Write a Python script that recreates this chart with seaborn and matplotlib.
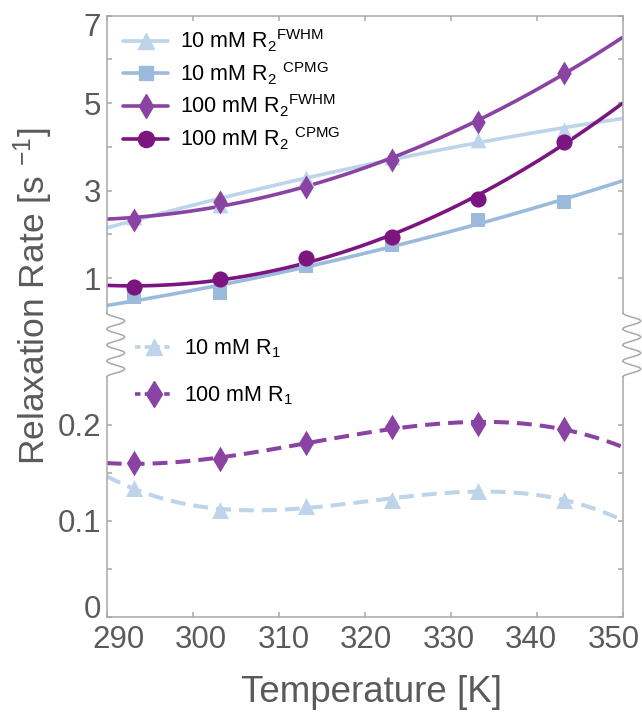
import numpy as np
import matplotlib
matplotlib.use("Agg")
import matplotlib.pyplot as plt
import seaborn as sns
from matplotlib.lines import Line2D
from matplotlib.transforms import ScaledTranslation
from matplotlib import font_manager

# ---------------- data ----------------
temperature = [293.15, 303.15, 313.15, 323.15, 333.15, 343.15]
r2_fwhm_10 = [2.40, 2.67, 3.28, 3.77, 4.16, 4.38]
r2_cpmg_10 = [0.57, 0.66, 1.28, 1.75, 2.32, 2.74]
r2_fwhm_100 = [2.33, 2.74, 3.09, 3.71, 4.57, 5.70]
r2_cpmg_100 = [0.785, 0.97, 1.45, 1.94, 2.80, 4.12]
r1_10 = [0.134, 0.111, 0.116, 0.122, 0.131, 0.122]
r1_100 = [0.160, 0.165, 0.181, 0.198, 0.201, 0.196]

top_yticks = [1, 3, 5, 7]
top_yminor = [2, 4, 6]
bot_yticks = [0, 0.1, 0.2]
bot_ytick_labels = ["0", "0.1", "0.2"]
bot_yminor = [0.05, 0.15]
xticks = [290, 300, 310, 320, 330, 340, 350]

labels_top = [r"10 mM R$_2$$^{\mathrm{FWHM}}$",
              r"10 mM R$_2$ $^{\mathrm{CPMG}}$",
              r"100 mM R$_2$$^{\mathrm{FWHM}}$",
              r"100 mM R$_2$ $^{\mathrm{CPMG}}$"]
labels_bot = [r"10 mM R$_1$", r"100 mM R$_1$"]

# ---------------- style ----------------
sns.set_style("white")


def pick(*names):
    for n in names:
        try:
            font_manager.findfont(n, fallback_to_default=False)
            return n
        except Exception:
            pass
    return "DejaVu Sans"


FONT = pick("Liberation Sans Narrow", "Liberation Sans")
plt.rcParams["font.family"] = [FONT, "DejaVu Sans"]
plt.rcParams["mathtext.fontset"] = "custom"
plt.rcParams["mathtext.rm"] = FONT
plt.rcParams["mathtext.it"] = FONT
plt.rcParams["mathtext.bf"] = FONT

GRAY = "#a8a8a8"
TXT = "#5a5a5a"
c_fwhm10 = "#bdd4ea"
c_cpmg10 = "#9bbadc"
c_fwhm100 = "#8a43a3"
c_cpmg100 = "#7c1580"

W, H = 642, 717
fig = plt.figure(figsize=(W / 100, H / 100), dpi=100)


def rect(l, t, r, b):
    return [l / W, 1 - b / H, (r - l) / W, (b - t) / H]


L, R = 106.7, 622.7
ax1 = fig.add_axes(rect(L, 15.7, R, 313))
ax2 = fig.add_axes(rect(L, 377, R, 617))
for ax in (ax1, ax2):
    ax.set_xlim(290, 350)
    ax.set_facecolor("none")
ax1.set_ylim(0.2, 7)
ax2.set_ylim(0, 0.25)

# ---------------- top panel ----------------
top_series = [
    (r2_fwhm_10, "^", c_fwhm10, 130, 2),
    (r2_cpmg_10, "s", c_cpmg10, 90, 2),
    (r2_fwhm_100, "d", c_fwhm100, 150, 2),
    (r2_cpmg_100, "o", c_cpmg100, 135, 2),
]
for vals, mk, col, s, order in top_series:
    sns.regplot(x=temperature, y=vals, order=order, ci=None, truncate=False,
                ax=ax1, marker=mk, color=col,
                scatter_kws=dict(s=s, alpha=1, linewidths=0, zorder=3),
                line_kws=dict(lw=2.6, zorder=2, solid_capstyle="butt"))

# ---------------- bottom panel ----------------
bot_series = [
    (r1_10, "^", c_fwhm10, 150, 3),
    (r1_100, "d", c_fwhm100, 170, 3),
]
for vals, mk, col, s, order in bot_series:
    sns.regplot(x=temperature, y=vals, order=order, ci=None, truncate=False,
                ax=ax2, marker=mk, color=col,
                scatter_kws=dict(s=s, alpha=1, linewidths=0, zorder=3),
                line_kws=dict(lw=2.9, zorder=2, dashes=(3.7, 2.0)))

for ax in (ax1, ax2):
    ax.set_xlim(290, 350)
    ax.set_xlabel("")
    ax.set_ylabel("")
ax1.set_ylim(0.2, 7)
ax2.set_ylim(0, 0.25)

# spines
for ax in (ax1, ax2):
    for sp in ax.spines.values():
        sp.set_color(GRAY)
        sp.set_linewidth(1.1)
ax1.spines["bottom"].set_visible(False)
ax2.spines["top"].set_visible(False)

tick_kw = dict(direction="in", length=3.5, width=1.1, color=GRAY,
               labelcolor=TXT, labelsize=22.5)
ax1.set_xticks(xticks)
ax1.tick_params(axis="x", which="both", bottom=False, top=True,
                labelbottom=False, **tick_kw)
ax1.set_yticks(top_yticks)
ax1.set_yticks(top_yminor, minor=True)
ax1.tick_params(axis="y", which="both", left=True, right=True, pad=4, **tick_kw)

ax2.set_xticks(xticks)
ax2.tick_params(axis="x", which="both", bottom=True, top=False, pad=6, **tick_kw)
ax2.set_yticks(bot_yticks)
ax2.set_yticklabels(bot_ytick_labels)
ax2.set_yticks(bot_yminor, minor=True)
ax2.tick_params(axis="y", which="both", left=True, right=True, pad=4, **tick_kw)

# nudge tick labels like the reference (labels drawn slightly inward)
for i, lab in enumerate(ax2.get_xticklabels()):
    dx = (12 - 3.5 * i) / 100.0
    lab.set_transform(lab.get_transform() + ScaledTranslation(dx, 0, fig.dpi_scale_trans))
lab0 = ax2.get_yticklabels()[0]
lab0.set_transform(lab0.get_transform() + ScaledTranslation(0, 0.10, fig.dpi_scale_trans))
lab7 = ax1.get_yticklabels()[-1]
lab7.set_transform(lab7.get_transform() + ScaledTranslation(0, -0.09, fig.dpi_scale_trans))

# ---------------- legends ----------------
h_top = [
    Line2D([], [], color=c_fwhm10, lw=2.6, marker="^", markersize=11.4),
    Line2D([], [], color=c_cpmg10, lw=2.6, marker="s", markersize=9.5),
    Line2D([], [], color=c_fwhm100, lw=2.6, marker="d", markersize=12.2),
    Line2D([], [], color=c_cpmg100, lw=2.6, marker="o", markersize=11.6),
]
leg1 = ax1.legend(h_top, labels_top, loc="upper left",
                  bbox_to_anchor=(0.032, 0.96), frameon=False, fontsize=15.5,
                  handlelength=2.1, handletextpad=0.55, labelspacing=0.28,
                  borderpad=0, borderaxespad=0, numpoints=1)
for t in leg1.get_texts():
    t.set_color("black")

h_bot = [
    Line2D([], [], color=c_fwhm10, lw=2.6, marker="^", markersize=12,
           dashes=(1.5, 1.2)),
    Line2D([], [], color=c_fwhm100, lw=2.6, marker="d", markersize=13,
           dashes=(1.5, 1.2)),
]
leg2 = ax2.legend(h_bot, labels_bot, loc="center left",
                  bbox_to_anchor=(0.055, 1.02), frameon=False, fontsize=15.5,
                  handlelength=1.75, handletextpad=0.5, labelspacing=1.15,
                  borderpad=0, borderaxespad=0, numpoints=1)
for t in leg2.get_texts():
    t.set_color("black")

# ---------------- axis break (decorative wavy lines) ----------------
s = np.linspace(0, 1, 300)
y_px = 313 + (377 - 313) * s
for xs in (L, R):
    x_px = xs + 9.0 * (1 - np.cos(2 * np.pi * 4 * s))
    fig.add_artist(Line2D(x_px / W, 1 - y_px / H, color=GRAY, lw=1.1,
                          transform=fig.transFigure))

# ---------------- axis labels ----------------
fig.text(372 / W, 1 - 693 / H, "Temperature [K]", ha="center", va="center",
         fontsize=26.5, color=TXT)
fig.text(33 / W, 1 - 296 / H, r"Relaxation Rate [s $^{-1}$]", ha="center",
         va="center", rotation=90, fontsize=25.5, color=TXT)

fig.savefig("out.png", dpi=100)
